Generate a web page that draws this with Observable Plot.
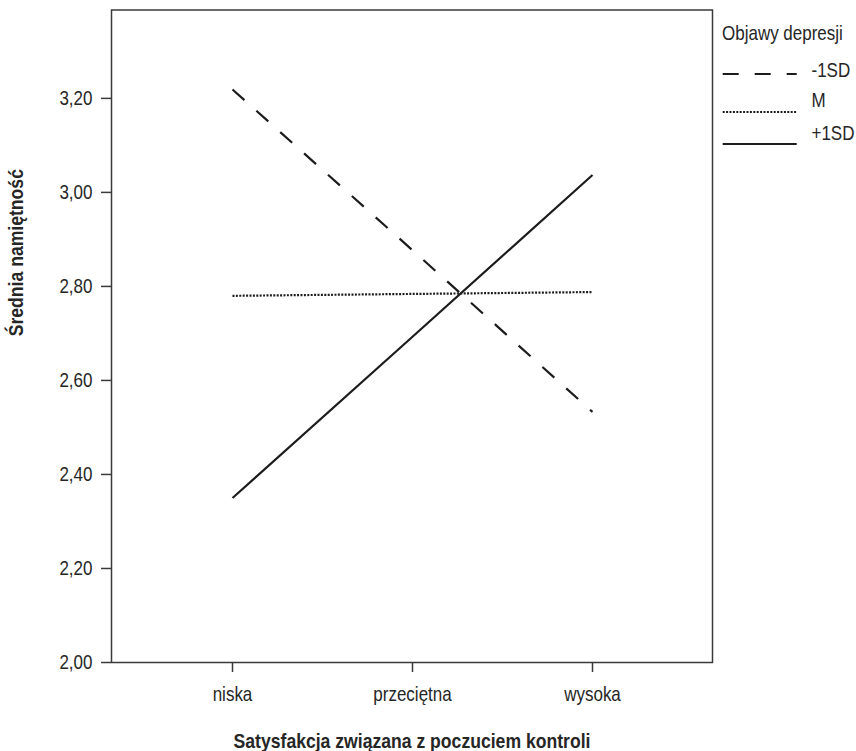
<!DOCTYPE html>
<html><head><meta charset="utf-8">
<script src="https://cdn.jsdelivr.net/npm/d3@7"></script>
<script src="https://cdn.jsdelivr.net/npm/@observablehq/plot@0.6"></script>
<style>
body{margin:0;background:#fff;}
#wrap{position:relative;width:856px;height:751px;}
#legend{position:absolute;left:712px;top:0;}
</style></head><body><div id="wrap"></div>
<script>
const levels = ["niska", "przeciętna", "wysoka"];
const seriesNames = ["-1SD", "M", "+1SD"];
const valsMinus1SD = [3.219, 2.877, 2.533];
const valsMean = [2.780, 2.784, 2.788];
const valsPlus1SD = [2.350, 2.693, 3.037];
const yTicks = [2.0, 2.2, 2.4, 2.6, 2.8, 3.0, 3.2];
const xTitle = "Satysfakcja związana z poczuciem kontroli";
const yTitle = "Średnia namiętność";
const legendTitle = "Objawy depresji";

const FONT = '"Liberation Sans", Arial, sans-serif';
const dashes = {"-1SD": "16,16", "M": "2,1.4", "+1SD": null};
const INK = "#1c1c1c";
const TXT = "#262626";

const seriesValues = [valsMinus1SD, valsMean, valsPlus1SD];
const rows = [];
seriesValues.forEach((vals, i) => vals.forEach((v, j) => rows.push({series: seriesNames[i], level: levels[j], value: v})));

const fmt = d => d.toFixed(2).replace(".", ",");

const chart = Plot.plot({
  width: 856, height: 751,
  marginLeft: 111, marginRight: 144, marginTop: 9.5, marginBottom: 89,
  style: {fontFamily: FONT, fontSize: "20px", color: TXT, background: "#fff", overflow: "visible"},
  x: {type: "point", domain: levels, padding: 0.665},
  y: {domain: [2.0, 3.388]},
  marks: [
    Plot.axisY({ticks: yTicks, tickFormat: fmt, tickSize: 10, tickPadding: 9, label: null, stroke: "#3a3a3a", strokeWidth: 1.5}),
    Plot.axisX({tickSize: 10, tickPadding: 14, label: null, stroke: "#3a3a3a", strokeWidth: 1.5}),
    ...seriesNames.map(s => Plot.line(rows.filter(r => r.series === s), {
      x: "level", y: "value", stroke: INK, strokeWidth: 2.2, strokeLinecap: "butt", strokeDasharray: dashes[s]
    })),
    Plot.frame({stroke: "#3a3a3a", strokeWidth: 1.5}),
    Plot.text([xTitle], {frameAnchor: "bottom", dy: 85, fontWeight: "bold", fill: TXT, className: "boldtitle"}),
    Plot.text([yTitle], {frameAnchor: "left", dx: -95, rotate: -90, fontWeight: "bold", fill: TXT, className: "boldtitle"})
  ]
});
const wrap = document.getElementById("wrap");
wrap.appendChild(chart);

// legend (HTML overlay to the right of the plot)
const lg = d3.create("svg").attr("id", "legend").attr("width", 144).attr("height", 170)
  .style("font-family", FONT).style("font-size", "20px");
lg.append("text").attr("x", 10).attr("y", 33).attr("dy", "0.35em").attr("fill", TXT).text(legendTitle);
const textY = [70, 100, 133.5];
const lineY = [74, 112, 144];
seriesNames.forEach((s, i) => {
  const ln = lg.append("line").attr("x1", 10.7).attr("x2", 84.7).attr("y1", lineY[i]).attr("y2", lineY[i])
    .attr("stroke", INK).attr("stroke-width", 2.2).attr("stroke-linecap", "butt");
  if (dashes[s]) ln.attr("stroke-dasharray", dashes[s]);
  lg.append("text").attr("x", 99.5).attr("y", textY[i]).attr("dy", "0.35em").attr("fill", TXT).text(s);
});
wrap.appendChild(lg.node());

// condense text horizontally (the reference uses a narrow typeface)
function condense(root) {
  root.querySelectorAll("text").forEach(t => {
    const bold = t.closest(".boldtitle") || t.getAttribute("font-weight") === "bold";
    const k = bold ? 0.88 : 0.85;
    const xa = t.getAttribute("x");
    const x = xa !== null && !isNaN(+xa) ? +xa : 0;
    if (xa !== null && !isNaN(+xa)) t.setAttribute("x", 0);
    const tr = t.getAttribute("transform") || "";
    t.setAttribute("transform", `${tr} translate(${x},0) scale(${k},1)`);
  });
}
condense(chart);
condense(lg.node());
</script>
</body></html>
